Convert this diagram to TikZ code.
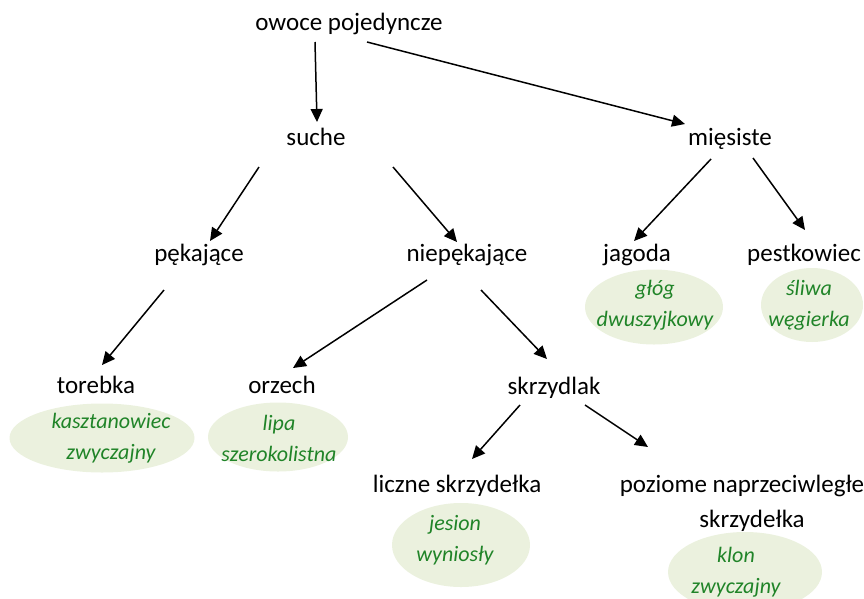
\documentclass[tikz,border=0pt]{standalone}
\usepackage{fontspec}
\setmainfont{Carlito}
\usetikzlibrary{arrows.meta,shapes.geometric}
\definecolor{leafgreen}{RGB}{32,132,40}
\definecolor{palegreen}{RGB}{235,241,222}

\begin{document}
\begin{tikzpicture}[x=1pt,y=-1pt,
    word/.style={inner sep=0pt,text height=18pt,text depth=4pt,font=\fontsize{25}{30}\selectfont},
    species/.style={align=center,inner sep=0pt,text=leafgreen,font=\fontsize{22}{31}\selectfont\itshape},
    blob/.style={ellipse,fill=palegreen,draw=none,inner sep=0pt},
    arr/.style={-{Triangle[length=13pt,width=12pt]},line width=1.5pt}]
    \useasboundingbox (0,0) rectangle (864,598);
    \clip (0,0) rectangle (864,598);
    % levels of the tree
    \node[word] (owoce) at (349,23) {owoce pojedyncze};
    \node[word] (suche) at (316,138) {suche};
    \node[word] (miesiste) at (730,138) {mięsiste};
    \node[word] (pekajace) at (199,254) {pękające};
    \node[word] (niepekajace) at (467,254) {niepękające};
    \node[word] (jagoda) at (637,254) {jagoda};
    \node[word] (pestkowiec) at (804,254) {pestkowiec};
    \node[word] (torebka) at (96,386) {torebka};
    \node[word] (orzech) at (282,386) {orzech};
    \node[word] (skrzydlak) at (554,387) {skrzydlak};
    \node[word] (liczne) at (457,485) {liczne skrzydełka};
    \node[word] (poziome) at (742,485) {poziome naprzeciwległe};
    \node[word] (poziomeB) at (752,520) {skrzydełka};
    % examples
    \node[blob,minimum width=185pt,minimum height=69pt] (torebkaE) at (102,438) {};
    \node[species] (torebkaT) at (111,438) {kasztanowiec\\zwyczajny};
    \node[blob,minimum width=140pt,minimum height=69pt] (orzechE) at (278,437) {};
    \node[species] (orzechT) at (279,438) {lipa\\szerokolistna};
    \node[blob,minimum width=138pt,minimum height=75pt] (jagodaE) at (654,307) {};
    \node[species] (jagodaT) at (655,305) {głóg\\dwuszyjkowy};
    \node[blob,minimum width=102pt,minimum height=74pt] (pestkowiecE) at (812,305) {};
    \node[species] (pestkowiecT) at (809,305) {śliwa\\węgierka};
    \node[blob,minimum width=138pt,minimum height=84pt] (liczneE) at (461,545) {};
    \node[species] (liczneT) at (455,540) {jesion\\wyniosły};
    \node[blob,minimum width=154pt,minimum height=80pt] (poziomeE) at (745,572) {};
    \node[species] (poziomeT) at (736,572) {klon\\zwyczajny};
    % arrows
    \draw[arr] ([shift={(-34,19)}]owoce.center) -- ([shift={(1,-16)}]suche.center);
    \draw[arr] ([shift={(18,19)}]owoce.center) -- ([shift={(-45,-14)}]miesiste.center);
    \draw[arr] ([shift={(-57,29)}]suche.center) -- ([shift={(11,-13)}]pekajace.center);
    \draw[arr] ([shift={(77,29)}]suche.center) -- ([shift={(-10,-12)}]niepekajace.center);
    \draw[arr] ([shift={(-19,21)}]miesiste.center) -- ([shift={(-3,-13)}]jagoda.center);
    \draw[arr] ([shift={(23,20)}]miesiste.center) -- ([shift={(1,-24)}]pestkowiec.center);
    \draw[arr] ([shift={(-35,36)}]pekajace.center) -- ([shift={(6,-21)}]torebka.center);
    \draw[arr] ([shift={(-40,26)}]niepekajace.center) -- ([shift={(11,-18)}]orzech.center);
    \draw[arr] ([shift={(14,36)}]niepekajace.center) -- ([shift={(-7,-28)}]skrzydlak.center);
    \draw[arr] ([shift={(-34,18)}]skrzydlak.center) -- ([shift={(15,-26)}]liczne.center);
    \draw[arr] ([shift={(31,18)}]skrzydlak.center) -- ([shift={(-94,-38)}]poziome.center);
\end{tikzpicture}
\end{document}
